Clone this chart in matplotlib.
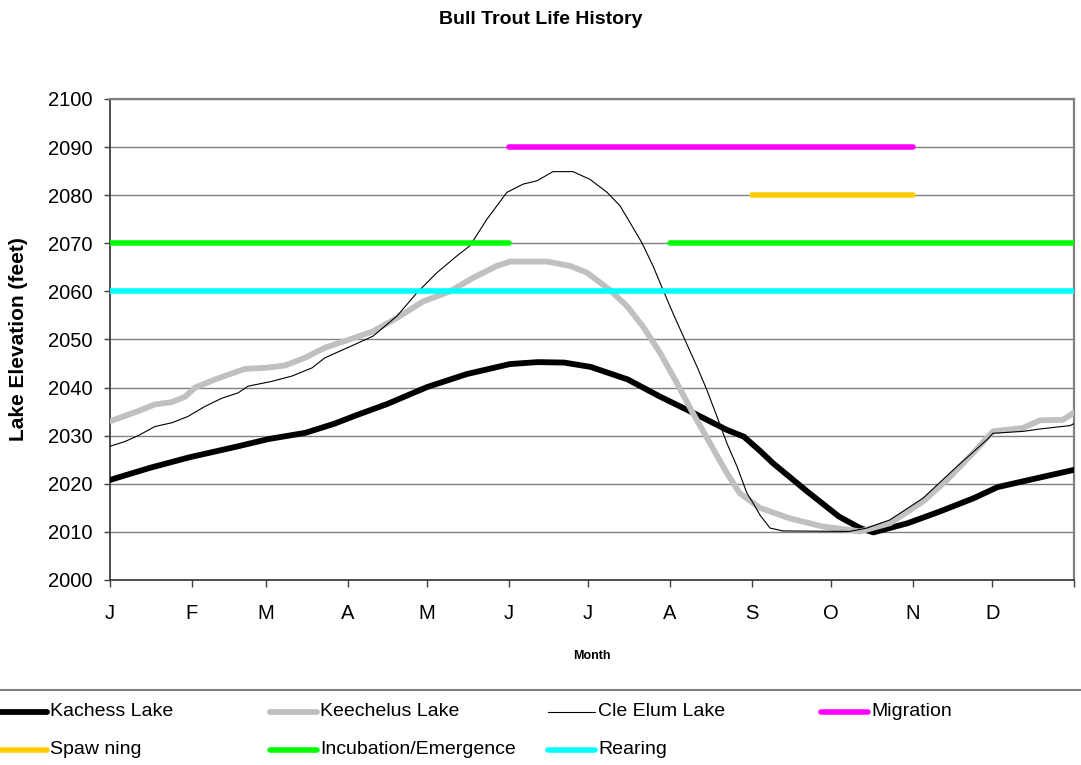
import numpy as np
import matplotlib.pyplot as plt
from matplotlib.lines import Line2D

plt.rcParams['font.family'] = ['Liberation Sans', 'DejaVu Sans']

# --- lake elevations (feet) by day of year ---
kachess_day = [0, 15, 30, 48.5, 60, 74, 85, 93, 105, 120, 135, 151.5, 162, 172, 182,
               196, 208, 221, 233.6, 240, 246, 251, 264, 276, 284, 289, 302, 314,
               327, 336, 348, 365]
kachess_elev = [2020.8, 2023.3, 2025.5, 2027.8, 2029.3, 2030.6, 2032.5, 2034.2, 2036.6,
                2040.1, 2042.8, 2044.9, 2045.3, 2045.2, 2044.3, 2041.7, 2038.2, 2034.7,
                2031.2, 2029.8, 2026.9, 2024.3, 2018.4, 2013.2, 2010.8, 2009.9, 2011.8,
                2014.2, 2017.0, 2019.3, 2020.8, 2022.9]

keechelus_day = [0, 10.6, 17, 23.5, 28.4, 32.2, 39.8, 51.1, 58.7, 66.3, 73.8, 81.4, 92.8,
                 99.6, 108.7, 118.5, 128.7, 137.4, 146.5, 151.5, 165.5, 174.2, 180.6,
                 189.3, 195.8, 201.8, 208.3, 214.7, 220.7, 227.2, 233.6, 238.5, 246.1,
                 257.5, 270, 280.2, 284, 295.3, 307.8, 316.9, 326.8, 334.3, 345.7,
                 352.1, 360.8, 365]
keechelus_elev = [2033.0, 2035.1, 2036.5, 2037.0, 2038.1, 2040.0, 2041.7, 2043.9, 2044.1,
                  2044.6, 2046.2, 2048.3, 2050.4, 2051.7, 2054.5, 2057.9, 2060.0, 2062.8,
                  2065.3, 2066.2, 2066.2, 2065.3, 2063.9, 2060.3, 2056.9, 2052.7, 2047.2,
                  2040.9, 2034.7, 2028.4, 2022.2, 2018.0, 2015.0, 2012.8, 2011.1, 2010.4,
                  2010.1, 2011.8, 2016.3, 2020.8, 2026.4, 2030.9, 2031.6, 2033.2, 2033.3,
                  2034.8]

cle_elum_day = [0, 5.7, 10.6, 17, 23.5, 29.5, 36, 42.4, 48.5, 52.3, 61.3, 68.9, 76.5, 81.4,
                92.8, 99.6, 108.7, 116.2, 123.8, 131.4, 136.3, 142.7, 150.3, 156.4, 161.7,
                167.7, 175.3, 181.7, 188.2, 193.1, 196.9, 201.4, 205.6, 209.4, 213.2,
                217.7, 222.3, 226, 229.8, 233.6, 237.4, 241.2, 243.5, 246.1, 249.9, 254.8,
                280, 286.6, 295.3, 307.8, 320.7, 332.1, 334.3, 345.7, 352.1, 363.5, 365]
cle_elum_elev = [2027.8, 2028.8, 2030.0, 2031.9, 2032.7, 2034.0, 2036.1, 2037.8, 2038.9,
                 2040.3, 2041.3, 2042.4, 2044.1, 2046.2, 2049.0, 2050.7, 2054.9, 2059.7,
                 2063.9, 2067.4, 2069.5, 2075.0, 2080.6, 2082.3, 2083.0, 2084.9, 2084.9,
                 2083.3, 2080.6, 2077.8, 2074.3, 2070.1, 2065.3, 2060.3, 2055.4, 2049.9,
                 2044.3, 2039.5, 2034.0, 2028.4, 2023.6, 2018.0, 2016.0, 2013.5, 2010.8,
                 2010.2, 2010.1, 2010.8, 2012.5, 2017.0, 2023.6, 2029.2, 2030.5, 2030.9,
                 2031.4, 2032.1, 2032.5]

# --- life history periods: start/end day of year, plotted at a fixed elevation ---
migration_start, migration_end, migration_level = [151], [304], 2090
spawning_start, spawning_end, spawning_level = [243], [304], 2080
incubation_start, incubation_end, incubation_level = [0, 212], [151, 365], 2070
rearing_start, rearing_end, rearing_level = [0], [365], 2060

month_starts = [0, 31, 59, 90, 120, 151, 181, 212, 243, 273, 304, 334, 365]
month_labels = ['J', 'F', 'M', 'A', 'M', 'J', 'J', 'A', 'S', 'O', 'N', 'D', '']


def period_line(starts, ends, level):
    # join the segments, with a NaN gap between them
    xs, ys = [], []
    for s, e in zip(starts, ends):
        xs += [s, e, np.nan]
        ys += [level, level, np.nan]
    return xs, ys


fig = plt.figure(figsize=(10.81, 7.65), dpi=100)
ax = fig.add_axes([110 / 1081, 1 - 580 / 765, 964 / 1081, 481 / 765])

ax.plot(kachess_day, kachess_elev, color='black', lw=4.2, label='Kachess Lake', zorder=3)
ax.plot(keechelus_day, keechelus_elev, color='#C0C0C0', lw=4.2, label='Keechelus Lake', zorder=3)
ax.plot(cle_elum_day, cle_elum_elev, color='black', lw=0.8, label='Cle Elum Lake', zorder=3)

periods = [
    (migration_start, migration_end, migration_level, '#FF00FF', 'Migration'),
    (spawning_start, spawning_end, spawning_level, '#FFCC00', 'Spaw ning'),
    (incubation_start, incubation_end, incubation_level, '#00FF00', 'Incubation/Emergence'),
    (rearing_start, rearing_end, rearing_level, '#00FFFF', 'Rearing'),
]
for starts, ends, level, col, name in periods:
    xs, ys = period_line(starts, ends, level)
    ax.plot(xs, ys, color=col, lw=4.0, solid_capstyle='round', label=name, zorder=4)

ax.set_xlim(0, 365)
ax.set_ylim(2000, 2100)
ax.set_xticks(month_starts)
ax.set_xticklabels(month_labels)
ax.set_yticks(np.arange(2000, 2101, 10))
ax.tick_params(axis='y', direction='out', length=4.5, width=1, color='#404040',
               labelsize=14.5, pad=8)
ax.tick_params(axis='x', direction='out', length=5, width=1, color='#404040',
               labelsize=14.5, pad=12)
ax.yaxis.grid(True, color='#808080', lw=1)
ax.set_axisbelow(True)

for side in ['left', 'bottom']:
    ax.spines[side].set_color('#404040')
    ax.spines[side].set_linewidth(1.3)
for side in ['top', 'right']:
    ax.spines[side].set_color('#808080')
    ax.spines[side].set_linewidth(1.6)

ax.set_ylabel('Lake Elevation (feet)', fontsize=15, fontweight='bold')
ax.yaxis.set_label_coords(-0.095, 0.5)
ax.yaxis.label.set_va('center')
ax.set_xlabel('Month', fontsize=9, fontweight='bold')
ax.xaxis.set_label_coords(0.5, -0.145)

fig.text(0.5, 1 - 20 / 765, 'Bull Trout Life History', ha='center', va='center',
         fontsize=14, fontweight='bold')

# legend below the plot, laid out in rows like a spreadsheet chart
fig.add_artist(Line2D([0, 1], [1 - 690 / 765] * 2, color='#808080', lw=1.5))
handles, labels = ax.get_legend_handles_labels()
col_x = [0, 270, 548, 821]
row_y = [712, 750]
for i, (h, lab) in enumerate(zip(handles, labels)):
    row, col = divmod(i, 4)
    x0 = col_x[col] / 1081
    y0 = 1 - row_y[row] / 765
    fig.add_artist(Line2D([x0, x0 + 47 / 1081], [y0, y0], color=h.get_color(),
                          lw=h.get_linewidth(), solid_capstyle='round'))
    fig.text(x0 + 50 / 1081, y0, lab, ha='left', va='center', fontsize=14)

fig.savefig('out.png', dpi=100)
